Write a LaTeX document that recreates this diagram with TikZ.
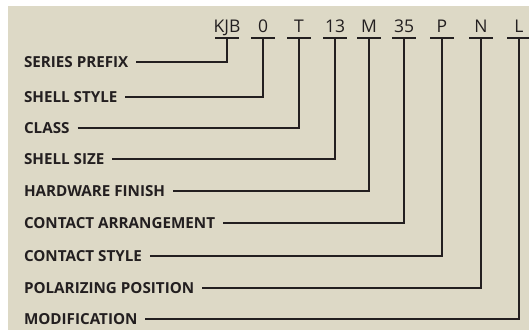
\documentclass[tikz,border=0pt]{standalone}
\usepackage{fontspec}
\setmainfont{Open Sans}
\definecolor{panel}{HTML}{DDD9C6}
\definecolor{ink}{HTML}{231F20}
\tikzset{
    code/.style={anchor=base, inner sep=0pt, font=\fontsize{17.5}{20}\selectfont, text=ink},
    field/.style={anchor=west, inner sep=0pt, outer xsep=8pt, font=\bfseries\fontsize{15.2}{18}\selectfont, text=ink},
    lead/.style={ink, line width=1.8pt}
}
\begin{document}
\begin{tikzpicture}[x=1pt, y=-1pt]
\useasboundingbox (0,0) rectangle (529,330);
\fill[panel] (8,6) rectangle (529,330);

\foreach \c/\t/\x/\y [count=\i] in {KJB/SERIES PREFIX/227/62, 0/SHELL STYLE/263/97, T/CLASS/299/128,
    13/SHELL SIZE/335/159, M/HARDWARE FINISH/369/191, 35/CONTACT ARRANGEMENT/404/223,
    P/CONTACT STYLE/442/256, N/POLARIZING POSITION/481/288, L/MODIFICATION/519/319}{
    \node[code] (c\i) at (\x,32) {\c};
    \coordinate (b\i) at (\x,38);
    \node[field] (l\i) at (16,\y) {\t};
    \draw[lead] ([xshift=-12pt]b\i) -- ([xshift=12pt]b\i);
    \draw[lead] (l\i.east) -- (l\i.east -| b\i) -- (b\i);
}

\end{tikzpicture}
\end{document}
